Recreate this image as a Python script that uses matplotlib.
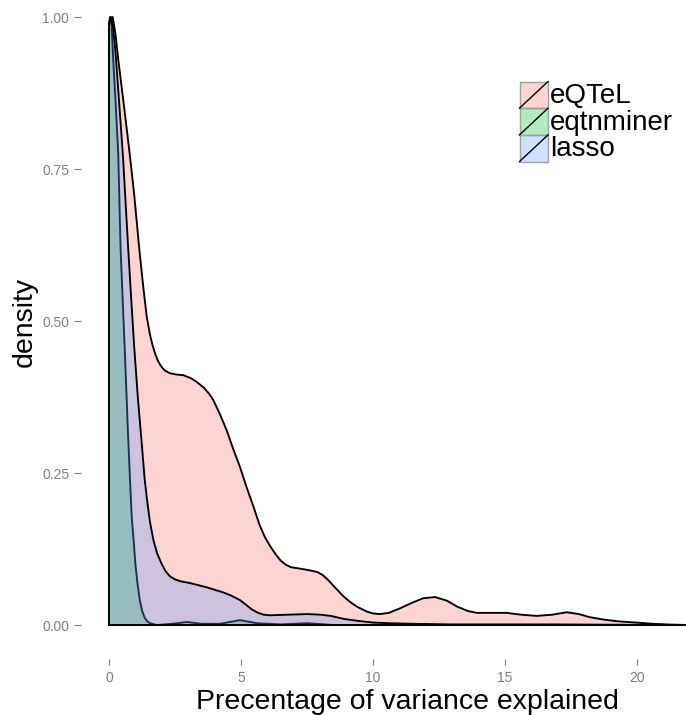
import matplotlib
matplotlib.use('Agg')
import matplotlib.pyplot as plt
from matplotlib.colors import to_rgba
from matplotlib.patches import Rectangle

plt.rcParams['font.family'] = ['Liberation Sans', 'DejaVu Sans']

# scaled density curves read per method
groups = ['eQTeL', 'eqtnminer', 'lasso']
colors = ['#F8766D', '#00BA38', '#619CFF']

eqtel_x = [0.0, 0.07, 0.14, 0.25, 0.35, 0.55, 0.77, 0.95, 1.15, 1.3, 1.43, 1.55, 1.65, 1.75,
           1.85, 1.95, 2.1, 2.31, 2.55, 2.81, 3.1, 3.32, 3.6, 3.8, 3.95, 4.2, 4.46, 4.7, 4.96,
           5.2, 5.47, 5.7, 5.9, 6.1, 6.3, 6.5, 6.7, 6.9, 7.2, 7.6, 7.9, 8.1, 8.3, 8.6, 8.86,
           9.13, 9.4, 9.77, 10.0, 10.27, 10.6, 11.0, 11.5, 11.9, 12.35, 12.8, 13.2, 13.6,
           13.93, 14.5, 15.06, 15.6, 16.2, 16.8, 17.34, 17.8, 18.2, 18.73, 19.3, 19.98, 20.6,
           21.1, 21.9]
eqtel_y = [0.985, 0.997, 1.0, 0.97, 0.93, 0.86, 0.78, 0.71, 0.617, 0.555, 0.507, 0.478, 0.46,
           0.446, 0.435, 0.427, 0.419, 0.414, 0.412, 0.411, 0.406, 0.40, 0.39, 0.38, 0.37,
           0.347, 0.32, 0.29, 0.26, 0.228, 0.195, 0.165, 0.145, 0.13, 0.117, 0.106, 0.099,
           0.095, 0.093, 0.09, 0.087, 0.082, 0.074, 0.06, 0.048, 0.038, 0.03, 0.022, 0.019,
           0.018, 0.02, 0.027, 0.037, 0.044, 0.046, 0.04, 0.03, 0.023, 0.02, 0.02, 0.02,
           0.017, 0.015, 0.017, 0.021, 0.018, 0.013, 0.009, 0.006, 0.004, 0.002, 0.001, 0.0]

eqtnminer_x = [0.0, 0.04, 0.1, 0.16, 0.25, 0.35, 0.44, 0.59, 0.73, 0.8, 0.86, 0.93, 1.0,
               1.08, 1.17, 1.25, 1.35, 1.45, 1.55, 1.8, 2.4, 2.95, 3.5, 4.2, 4.96, 5.6, 6.5,
               7.5, 8.5, 10.0, 21.9]
eqtnminer_y = [0.99, 1.0, 0.985, 0.93, 0.86, 0.775, 0.617, 0.46, 0.304, 0.235, 0.178, 0.14,
               0.1, 0.068, 0.04, 0.024, 0.012, 0.006, 0.003, 0.0, 0.002, 0.005, 0.002, 0.002,
               0.008, 0.003, 0.001, 0.003, 0.0, 0.0, 0.0]

lasso_x = [0.0, 0.08, 0.15, 0.25, 0.35, 0.53, 0.73, 0.85, 0.95, 1.1, 1.23, 1.35, 1.44, 1.55,
           1.68, 1.82, 2.0, 2.15, 2.31, 2.5, 2.7, 3.07, 3.7, 4.0, 4.3, 4.6, 4.96, 5.2, 5.4,
           5.6, 5.85, 6.1, 6.8, 7.5, 8.0, 8.4, 8.9, 9.4, 10.0, 10.6, 11.5, 13.0, 15.0, 17.0,
           19.0, 21.9]
lasso_y = [0.99, 1.0, 0.985, 0.94, 0.88, 0.77, 0.617, 0.53, 0.46, 0.37, 0.304, 0.24, 0.206,
           0.17, 0.14, 0.118, 0.1, 0.088, 0.08, 0.075, 0.072, 0.069, 0.062, 0.058, 0.054,
           0.049, 0.041, 0.033, 0.026, 0.021, 0.017, 0.016, 0.017, 0.018, 0.017, 0.015, 0.01,
           0.007, 0.004, 0.003, 0.002, 0.001, 0.001, 0.001, 0.0005, 0.0]

curves = [(eqtel_x, eqtel_y), (eqtnminer_x, eqtnminer_y), (lasso_x, lasso_y)]

x_ticks = [0, 5, 10, 15, 20]
y_ticks = [0.0, 0.25, 0.5, 0.75, 1.0]
y_tick_labels = ['0.00', '0.25', '0.50', '0.75', '1.00']

W, H = 686, 715
fig = plt.figure(figsize=(W / 100, H / 100), dpi=100)
ax = fig.add_axes([81 / W, 56 / H, 605 / W, 659 / H])

for (xs, ys), col in zip(curves, colors):
    px = [0.0] + list(xs) + [xs[-1]]
    py = [0.0] + list(ys) + [0.0]
    ax.fill(px, py, facecolor=to_rgba(col, 0.3), edgecolor='black', linewidth=1.35,
            joinstyle='round')

ax.set_xlim(-1.061, 21.856)
ax.set_ylim(-0.0559, 1.028)
for s in ax.spines.values():
    s.set_visible(False)
ax.set_xticks(x_ticks)
ax.set_xticklabels([str(t) for t in x_ticks])
ax.set_yticks(y_ticks)
ax.set_yticklabels(y_tick_labels)
ax.tick_params(axis='x', colors='#7F7F7F', labelsize=10, length=4.3, width=0.8, pad=4)
ax.tick_params(axis='y', colors='#7F7F7F', labelsize=10, length=5.0, width=0.8, pad=3.5)

fig.text(407 / W, 1 - 702 / H, 'Precentage of variance explained', fontsize=20.5,
         ha='center', va='center')
fig.text(25 / W, 1 - 322 / H, 'density', fontsize=20.5, rotation=90,
         ha='center', va='center')

# legend keys drawn in pixel space
lg = fig.add_axes([0, 0, 1, 1])
lg.set_xlim(0, W)
lg.set_ylim(H, 0)
lg.axis('off')
key_h = 26.7
for i, (name, col) in enumerate(zip(groups, colors)):
    top = 81.5 + i * key_h
    lg.add_patch(Rectangle((519.5, top), 28.5, key_h, facecolor=to_rgba(col, 0.3),
                           edgecolor='#A0A0A0', linewidth=1.0))
    lg.plot([519.5, 548], [top + key_h, top], color='black', linewidth=1.0)
    lg.text(550, top + key_h / 2 + 1, name, fontsize=20, ha='left', va='center')

fig.savefig('out.png', dpi=100)
